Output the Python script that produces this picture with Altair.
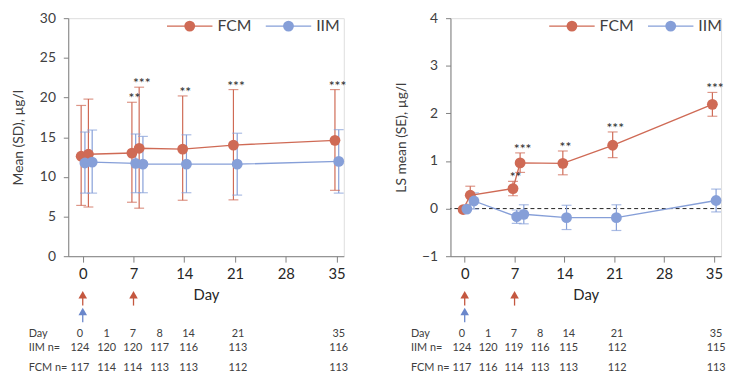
import altair as alt
import pandas as pd

# ---------------- data ----------------
days = [0, 1, 7, 8, 14, 21, 35]
series_names = ["FCM", "IIM"]

# Left panel: mean (SD)
fcm_mean_l = [12.6, 12.85, 13.0, 13.6, 13.5, 14.0, 14.6]
fcm_lo_l = [6.4, 6.2, 6.8, 6.05, 7.05, 7.1, 8.3]
fcm_hi_l = [19.0, 19.8, 19.4, 21.3, 20.2, 21.0, 21.0]
iim_mean_l = [11.75, 11.85, 11.7, 11.6, 11.6, 11.6, 11.95]
iim_lo_l = [7.95, 7.95, 8.0, 8.0, 8.0, 7.7, 7.95]
iim_hi_l = [15.65, 15.9, 15.4, 15.1, 15.3, 15.5, 15.95]

# Right panel: LS mean (SE)
fcm_mean_r = [-0.02, 0.28, 0.42, 0.96, 0.95, 1.33, 2.19]
fcm_lo_r = [None, 0.09, 0.27, 0.76, 0.71, 1.07, 1.94]
fcm_hi_r = [None, 0.47, 0.57, 1.17, 1.21, 1.61, 2.44]
iim_mean_r = [-0.01, 0.16, -0.17, -0.12, -0.19, -0.19, 0.17]
iim_lo_r = [None, -0.01, -0.31, -0.32, -0.44, -0.46, -0.07]
iim_hi_r = [None, 0.33, -0.03, 0.08, 0.07, 0.08, 0.41]

star_days = [7, 8, 14, 21, 35]
star_labels = ["**", "***", "**", "***", "***"]

red_arrow_days = [0, 7]
blue_arrow_days = [0]

table_days = [0, 1, 7, 8, 14, 21, 35]
iim_n_l = [124, 120, 120, 117, 116, 113, 116]
fcm_n_l = [117, 114, 114, 113, 113, 112, 113]
iim_n_r = [124, 120, 119, 116, 115, 112, 115]
fcm_n_r = [117, 116, 114, 113, 113, 112, 113]

x_ticks = [0, 7, 14, 21, 28, 35]

# ---------------- layout / style ----------------
FONT = "Lato"
RED, BLUE = "#C4573F", "#6A87CB"
RED_BAR, BLUE_BAR = "#CF6A55", "#869FD8"
TXT = "#404040"
AX = "#808080"
H = 241
series_offset = {"FCM": -0.22, "IIM": 0.3}
table_col_pos = [-0.4, 3.3, 6.9, 10.6, 14.6, 21.4, 35.3]

xscale = alt.Scale(domain=[-2, 36], nice=False, zero=False, padding=0)
X_AXIS = alt.Axis(values=x_ticks, title="Day", grid=False, labelFontSize=15,
                  labelColor="#262626", titleFontSize=15, titleFontWeight="normal",
                  titleColor="#262626", titleY=39, titleBaseline="middle",
                  domainColor=AX, tickColor=AX, tickSize=6, labelPadding=5)
color = alt.Color("series:N", scale=alt.Scale(domain=series_names, range=[RED, BLUE]), legend=None)
barcolor = alt.Color("series:N", scale=alt.Scale(domain=series_names, range=[RED_BAR, BLUE_BAR]), legend=None)


def panel(means, los, his, ydomain, yticks, ytitle, iim_n, fcm_n, zero_line, width):
    rows = []
    for s, (m, lo, hi) in zip(series_names, zip(means, los, his)):
        for d, mv, lv, hv in zip(days, m, lo, hi):
            rows.append({"series": s, "day": d, "xpos": d + series_offset[s],
                         "mean": mv, "lo": lv, "hi": hv})
    df = pd.DataFrame(rows)
    err = df.dropna(subset=["lo", "hi"])

    yscale = alt.Scale(domain=ydomain, nice=False, zero=False, padding=0)
    y_axis = alt.Axis(values=yticks, title=ytitle, grid=False, labelFontSize=14,
                      labelColor=TXT, titleFontSize=14, titleFontWeight="normal",
                      titleColor=TXT, titleX=-50, titleY=H / 2, titleAngle=270,
                      titleAlign="center", titleBaseline="middle",
                      domainColor=AX, tickColor=AX, tickSize=5, labelPadding=8)
    X = alt.X("xpos:Q", scale=xscale, axis=X_AXIS)

    def Y(f):
        return alt.Y(f"{f}:Q", scale=yscale, axis=y_axis)

    layers = []
    if zero_line:
        layers.append(alt.Chart(pd.DataFrame({"z": [0]})).mark_rule(
            color="#222222", strokeDash=[4, 3], strokeWidth=1).encode(y=Y("z")))
    layers.append(alt.Chart(err).mark_rule(strokeWidth=1.2).encode(
        x=X, y=Y("lo"), y2="hi:Q", color=barcolor))
    for f in ["lo", "hi"]:
        layers.append(alt.Chart(err).mark_tick(orient="horizontal", size=10, thickness=1.2).encode(
            x=X, y=Y(f), color=barcolor))
    layers.append(alt.Chart(df).mark_line(strokeWidth=1.4).encode(
        x=X, y=Y("mean"), color=color, order="xpos:Q"))
    layers.append(alt.Chart(df).mark_circle(size=120, opacity=1).encode(
        x=X, y=Y("mean"), color=color))

    # significance stars above FCM error bars
    fcm_err = err[err.series == "FCM"].set_index("day")
    sdf = pd.DataFrame({"day": star_days, "label": star_labels,
                        "top": [fcm_err.loc[d, "hi"] for d in star_days]})
    layers.append(alt.Chart(sdf).mark_text(fontSize=14, baseline="middle", dy=-3, dx=1,
                                           color="#262626").encode(
        x=alt.X("day:Q", scale=xscale, axis=X_AXIS), y=Y("top"), text="label:N"))

    # legend
    for s, x0 in zip(series_names, [100, 200]):
        one = alt.Chart(pd.DataFrame({"series": [s]}))
        layers.append(one.mark_rule(strokeWidth=1.4).encode(
            x=alt.value(x0), x2=alt.value(x0 + 46), y=alt.value(8), color=color))
        layers.append(one.mark_circle(size=120, opacity=1).encode(
            x=alt.value(x0 + 23), y=alt.value(8), color=color))
        layers.append(one.mark_text(fontSize=16, align="left", baseline="middle", color=TXT).encode(
            x=alt.value(x0 + 51), y=alt.value(8), text="series:N"))

    # dosing arrows below the axis
    for arr_days, col, ytop in [(red_arrow_days, RED, 280), (blue_arrow_days, BLUE, 297)]:
        adf = pd.DataFrame({"day": arr_days})
        Xa = alt.X("day:Q", scale=xscale, axis=X_AXIS)
        layers.append(alt.Chart(adf).mark_rule(color=col, strokeWidth=1.3).encode(
            x=Xa, y=alt.value(ytop + 2), y2=alt.value(ytop + 11)))
        layers.append(alt.Chart(adf).mark_point(shape="triangle-up", filled=True, size=75,
                                                color=col, opacity=1).encode(
            x=Xa, y=alt.value(ytop)))

    # n table
    for lab, vals, ty in [("Day", table_days, 320), ("IIM n=", iim_n, 334), ("FCM n=", fcm_n, 354)]:
        tdf = pd.DataFrame({"pos": table_col_pos, "v": [str(v) for v in vals]})
        layers.append(alt.Chart(tdf).mark_text(fontSize=11, baseline="middle", color=TXT).encode(
            x=alt.X("pos:Q", scale=xscale, axis=X_AXIS), y=alt.value(ty), text="v:N"))
        layers.append(alt.Chart(pd.DataFrame({"t": [lab]})).mark_text(
            fontSize=11, baseline="middle", align="left", color=TXT).encode(
            x=alt.value(-40), y=alt.value(ty), text="t:N"))

    return alt.layer(*layers).properties(width=width, height=H)


left = panel([fcm_mean_l, iim_mean_l], [fcm_lo_l, iim_lo_l], [fcm_hi_l, iim_hi_l],
             [0, 30], [0, 5, 10, 15, 20, 25, 30], "Mean (SD), µg/l", iim_n_l, fcm_n_l,
             False, 279)
right = panel([fcm_mean_r, iim_mean_r], [fcm_lo_r, iim_lo_r], [fcm_hi_r, iim_hi_r],
              [-1, 4], [-1, 0, 1, 2, 3, 4], "LS mean (SE), µg/l", iim_n_r, fcm_n_r,
              True, 274)

chart = alt.hconcat(left, right, spacing=45).properties(
    padding={"left": 3, "top": 0, "right": 0, "bottom": 0}
).configure_view(stroke=None).configure(font=FONT)

chart.save("out.html", embed_options={"renderer": "svg", "actions": False})
